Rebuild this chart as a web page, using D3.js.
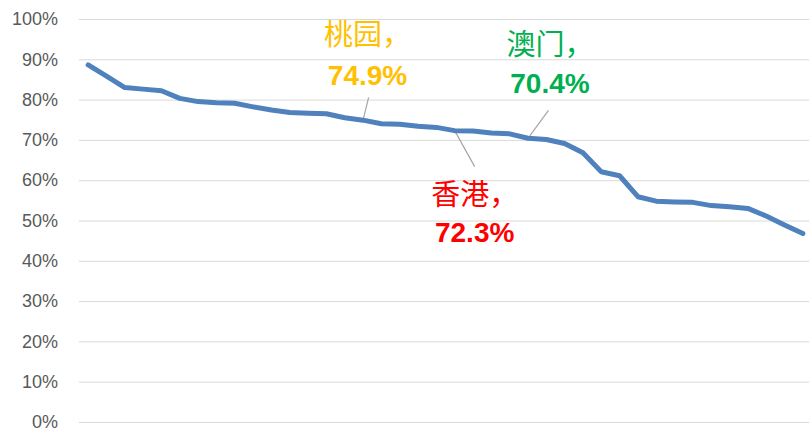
<!DOCTYPE html>
<html>
<head>
<meta charset="utf-8">
<script src="https://cdn.jsdelivr.net/npm/d3@7"></script>
<style>
  body { margin: 0; background: #fff; }
  svg { display: block; }
  .y-axis text { font-family: "Liberation Sans", Arial, sans-serif; font-size: 18px; fill: #595959; }
  .grid-line { stroke: #d9d9d9; stroke-width: 1; }
</style>
</head>
<body>
<svg></svg>
<script>
// share values, one point per city (no x labels shown)
const values = [88.6, 85.8, 83.0, 82.6, 82.2, 80.3, 79.5, 79.2, 79.1, 78.2,
                77.4, 76.8, 76.6, 76.5, 75.5, 74.9, 74.0, 73.9, 73.4, 73.1,
                72.3, 72.2, 71.7, 71.5, 70.4, 70.1, 69.1, 66.8, 62.1, 61.1,
                55.9, 54.8, 54.6, 54.5, 53.7, 53.4, 53.0, 51.1, 48.9, 46.8];
const categories = values.map((d, i) => i);
const yTicks = [0, 10, 20, 30, 40, 50, 60, 70, 80, 90, 100];

// annotated points
const labelNames = ["桃园", "香港", "澳门"];
const labelIndex = [15, 20, 24];
const labelValues = [74.9, 72.3, 70.4];
const labelColors = ["#ffc000", "#ff0000", "#00b050"];
// offsets of text and leader end relative to the point
const labelLayout = [
  {dx: 4.5, dy1: -75, dy2: -35, lx: 5.6, ly: -22.7},
  {dx: 20, dy1: 74.5, dy2: 111, lx: 20, ly: 36},
  {dx: 22, dy1: -83, dy2: -45, lx: 20.5, ly: -28}
];

const width = 809, height = 430;
const marginLeft = 79, plotRight = 812;
const yTop = 19, yBottom = 422;

const svg = d3.select("svg").attr("width", width).attr("height", height);

const scaleX = d3.scaleBand().domain(categories).range([marginLeft, plotRight]);
const scaleY = d3.scaleLinear().domain([0, 100]).range([yBottom, yTop]);
const cx = i => scaleX(i) + scaleX.bandwidth() / 2;

// y axis with grid
const axisY = d3.axisLeft(scaleY).tickValues(yTicks).tickFormat(d => d + "%").tickSize(0).tickPadding(21);
const gy = svg.append("g").attr("class", "y-axis")
  .attr("transform", `translate(${marginLeft},0)`)
  .call(axisY);
gy.select(".domain").remove();
gy.selectAll("g.tick")
  .append("line")
  .classed("grid-line", true)
  .attr("x1", 0).attr("y1", 0)
  .attr("x2", width - marginLeft).attr("y2", 0);

// leader lines
svg.selectAll(".leader")
  .data(labelIndex)
  .enter().append("line")
  .attr("x1", (d, i) => cx(d))
  .attr("y1", (d, i) => scaleY(labelValues[i]))
  .attr("x2", (d, i) => cx(d) + labelLayout[i].lx)
  .attr("y2", (d, i) => scaleY(labelValues[i]) + labelLayout[i].ly)
  .attr("stroke", "#a6a6a6").attr("stroke-width", 1.2);

// the line
const line = d3.line().x((d, i) => cx(i)).y(d => scaleY(d));
svg.append("path")
  .datum(values)
  .attr("d", line)
  .attr("fill", "none")
  .attr("stroke", "#4f81bd")
  .attr("stroke-width", 5)
  .attr("stroke-linejoin", "round")
  .attr("stroke-linecap", "round");

// labels
labelIndex.forEach((idx, i) => {
  const x = cx(idx) + labelLayout[i].dx;
  const y = scaleY(labelValues[i]);
  svg.append("text")
    .attr("x", x).attr("y", y + labelLayout[i].dy1)
    .attr("text-anchor", "middle")
    .style("font-family", "'Noto Sans CJK SC', sans-serif")
    .style("font-size", "29px")
    .style("fill", labelColors[i])
    .text(labelNames[i] + "，");
  svg.append("text")
    .attr("x", x).attr("y", y + labelLayout[i].dy2)
    .attr("text-anchor", "middle")
    .style("font-family", "'Liberation Sans', Arial, sans-serif")
    .style("font-weight", "bold")
    .style("font-size", "28px")
    .style("fill", labelColors[i])
    .text(labelValues[i].toFixed(1) + "%");
});
</script>
</body>
</html>
